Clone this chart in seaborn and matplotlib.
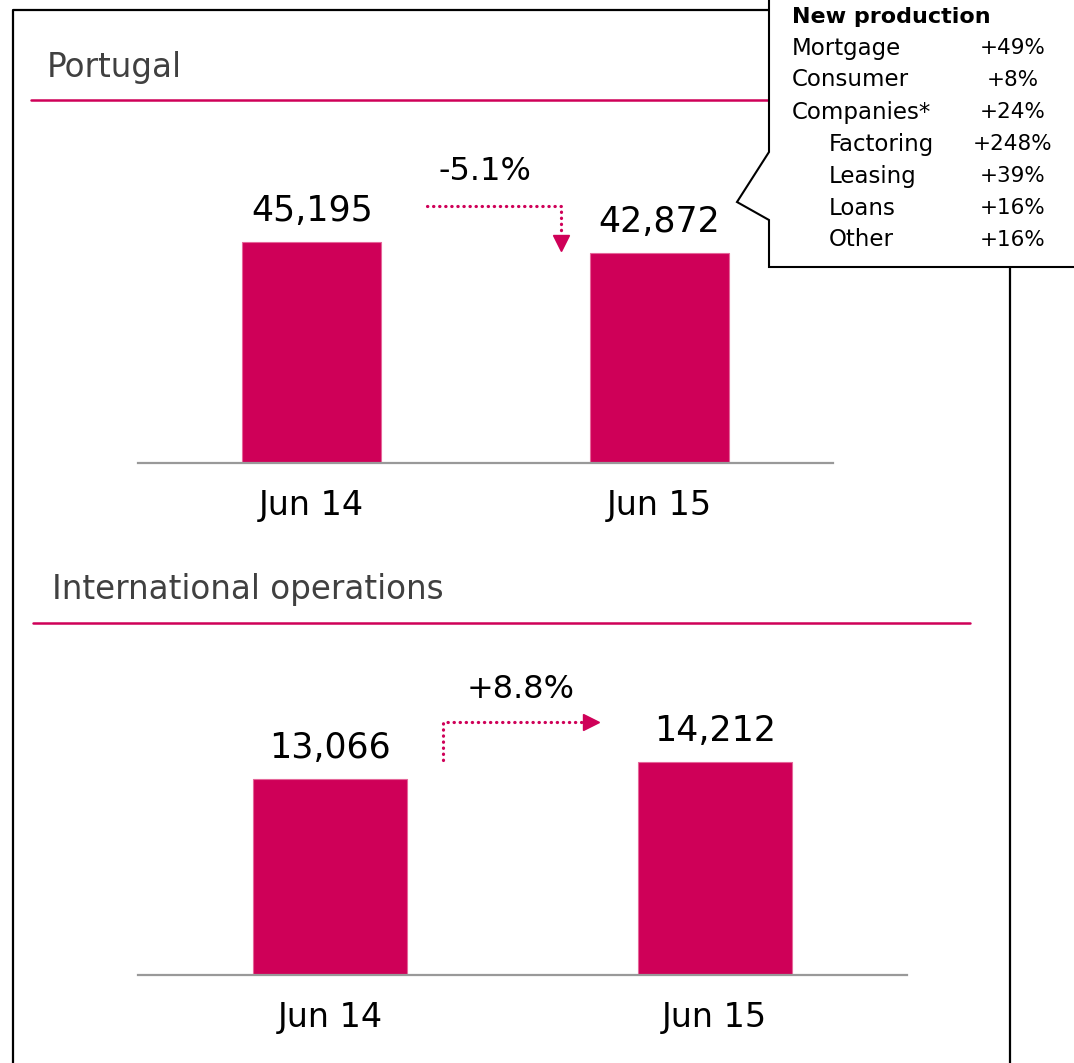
import matplotlib
matplotlib.use("Agg")
import matplotlib.pyplot as plt
from matplotlib.patches import Polygon
from matplotlib.lines import Line2D
import seaborn as sns
import pandas as pd

# data
periods = ["Jun 14", "Jun 15"]
portugal = [45195, 42872]
international = [13066, 14212]
pt_change = "-5.1%"
intl_change = "+8.8%"
np_title = "New production"
np_labels = ["Mortgage", "Consumer", "Companies*", "Factoring", "Leasing", "Loans", "Other"]
np_values = ["+49%", "+8%", "+24%", "+248%", "+39%", "+16%", "+16%"]
np_indent = [0, 0, 0, 1, 1, 1, 1]

PINK = "#CF0058"
W, H = 1074, 1063

sns.set_style("white")
plt.rcParams["font.family"] = ["DejaVu Sans"]
plt.rcParams["text.color"] = "black"
plt.rcParams["xtick.color"] = "black"

fig = plt.figure(figsize=(W / 100, H / 100), dpi=100)

def fx(px): return px / W
def fy(py): return 1 - py / H

def rect(left, right, top, bottom):
    return [fx(left), fy(bottom), (right - left) / W, (bottom - top) / H]

def bar_panel(ax, values):
    df = pd.DataFrame({"period": periods, "value": values})
    sns.barplot(data=df, x="period", y="value", color=PINK, saturation=1, width=0.4,
                edgecolor="#E5679A", linewidth=0.8, ax=ax)
    ax.bar_label(ax.containers[0], labels=[f"{v:,}" for v in values], padding=10,
                 fontsize=25, color="black")
    ax.set_xlim(-0.5, 1.5)
    ax.set_xlabel(""); ax.set_ylabel(""); ax.set_yticks([])
    for s in ["top", "left", "right"]:
        ax.spines[s].set_visible(False)
    ax.spines["bottom"].set_color("#999999"); ax.spines["bottom"].set_linewidth(1.6)
    ax.tick_params(axis="x", length=0, pad=19, labelsize=24, labelcolor="black")
    ax.set_facecolor("none")

# Portugal panel
ax1 = fig.add_axes(rect(138, 833, 140, 463))
bar_panel(ax1, portugal)
ax1.set_ylim(0, portugal[0] * 323 / 221)
u1 = portugal[0] / 221  # data units per pixel
dot = dict(color=PINK, lw=2.3, ls=(0, (0.1, 1.8)), dash_capstyle="round", solid_capstyle="round")
ax1.plot([0.333, 0.718, 0.718], [257 * u1, 257 * u1, 228 * u1], **dot, clip_on=False)
ax1.plot([0.718], [220 * u1], marker="v", ms=11, color=PINK, clip_on=False)
ax1.text(0.497, 291 * u1, pt_change, ha="center", va="center", fontsize=23, clip_on=False)

# International panel
ax2 = fig.add_axes(rect(138, 907, 700, 975))
bar_panel(ax2, international)
ax2.set_ylim(0, international[0] * 275 / 196)
u2 = international[0] / 196
ax2.plot([0.294, 0.294, 0.664], [215 * u2, 253 * u2, 253 * u2], **dot, clip_on=False)
ax2.plot([0.677], [253 * u2], marker=">", ms=11, color=PINK, clip_on=False)
ax2.text(0.495, 285 * u2, intl_change, ha="center", va="center", fontsize=23, clip_on=False)

# section titles and rules
fig.text(fx(47), fy(67), "Portugal", ha="left", va="center", fontsize=23.5, color="#404040")
fig.text(fx(52), fy(590), "International operations", ha="left", va="center", fontsize=23.5, color="#404040")
fig.add_artist(Line2D([fx(31), fx(970)], [fy(100), fy(100)], color=PINK, lw=1.8))
fig.add_artist(Line2D([fx(33), fx(970)], [fy(623), fy(623)], color=PINK, lw=1.8))

# outer frame
fig.add_artist(Line2D([fx(13), fx(13), fx(1010), fx(1010)], [fy(H + 5), fy(10), fy(10), fy(H + 5)],
                      color="black", lw=1.6, zorder=1))

# callout
pts = [(769, -3), (769, 152), (737, 202), (769, 220), (769, 267), (1080, 267), (1080, -3)]
fig.add_artist(Polygon([(fx(x), fy(y)) for x, y in pts], closed=True, facecolor="white",
                       edgecolor="black", lw=1.5, zorder=5))
fig.text(fx(792), fy(17), np_title, ha="left", va="center", fontsize=16, fontweight="bold", zorder=6)
for i, (lab, val, ind) in enumerate(zip(np_labels, np_values, np_indent)):
    yy = 48 + 32 * i
    fig.text(fx(792 + 37 * ind), fy(yy), lab, ha="left", va="center", fontsize=16.5, zorder=6)
    fig.text(fx(1013), fy(yy), val, ha="center", va="center", fontsize=15.5, zorder=6)

fig.savefig("out.png", dpi=100)
